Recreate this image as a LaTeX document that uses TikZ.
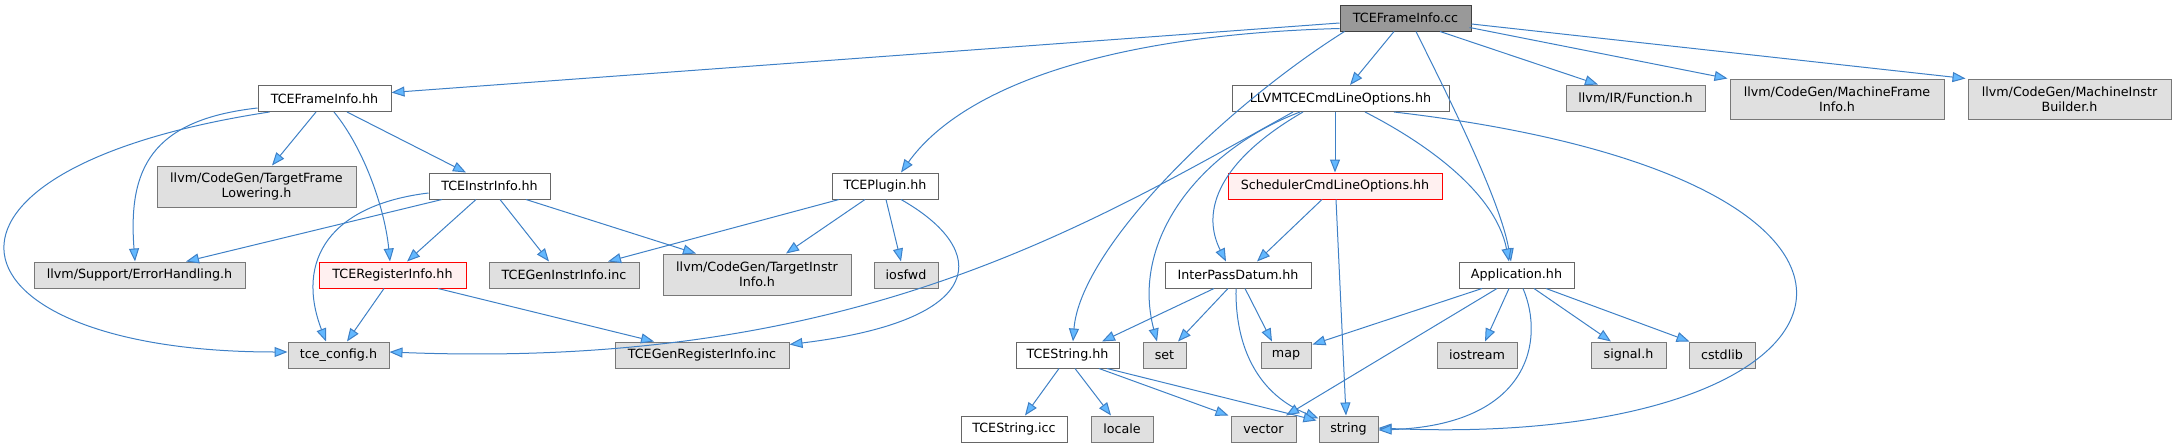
\documentclass[tikz,border=0pt]{standalone}
\usepackage{fontspec}
\setmainfont{DejaVu Sans}
\usetikzlibrary{arrows.meta,calc}
\definecolor{edgec}{RGB}{62,128,198}
\definecolor{tipc}{RGB}{99,184,255}
\definecolor{grayfill}{RGB}{224,224,224}
\definecolor{grayline}{RGB}{120,120,120}
\definecolor{mainfill}{RGB}{153,153,153}
\definecolor{mainline}{RGB}{64,64,64}
\definecolor{fileline}{RGB}{102,102,102}
\definecolor{redfill}{RGB}{255,240,240}
\tikzset{
 base/.style={draw, line width=1pt, inner sep=0pt, minimum height=26pt, font=\fontsize{12.7}{15}\selectfont, align=center, text=black},
 filebox/.style={base, draw=fileline, fill=white},
 extbox/.style={base, draw=grayline, fill=grayfill},
 mainbox/.style={base, draw=mainline, fill=mainfill},
 redbox/.style={base, draw=red, fill=redfill},
 dep/.style={draw=edgec, line width=1pt, -{Triangle[length=13pt,width=10pt,fill=tipc]}},
}
\begin{document}
\begin{tikzpicture}[x=1pt,y=-1pt]
\useasboundingbox (0,0) rectangle (2177,447);
% nodes
\node[mainbox, minimum width=131pt] (cc) at (1405.5,18) {TCEFrameInfo.cc};
\node[filebox, minimum width=133pt] (hh) at (324.5,98.5) {TCEFrameInfo.hh};
\node[filebox, minimum width=217pt] (llo) at (1340.5,98.5) {LLVMTCECmdLineOptions.hh};
\node[extbox, minimum width=139pt] (fun) at (1635.5,98) {llvm/IR/Function.h};
\node[extbox, minimum width=214pt, minimum height=40pt] (mfi) at (1837,99) {llvm/CodeGen/MachineFrame\\Info.h};
\node[extbox, minimum width=203pt, minimum height=40pt] (mib) at (2069.5,99) {llvm/CodeGen/MachineInstr\\Builder.h};
\node[extbox, minimum width=199pt, minimum height=41pt] (tfl) at (256.5,186.5) {llvm/CodeGen/TargetFrame\\Lowering.h};
\node[filebox, minimum width=121pt] (tii) at (489.5,186) {TCEInstrInfo.hh};
\node[filebox, minimum width=106pt] (plg) at (885,186) {TCEPlugin.hh};
\node[redbox, minimum width=214pt] (sch) at (1335,186) {SchedulerCmdLineOptions.hh};
\node[extbox, minimum width=211pt] (eh) at (139.5,275) {llvm/Support/ErrorHandling.h};
\node[redbox, minimum width=147pt] (tri) at (392.5,275) {TCERegisterInfo.hh};
\node[extbox, minimum width=150pt] (gii) at (564,275) {TCEGenInstrInfo.inc};
\node[extbox, minimum width=188pt, minimum height=41pt] (tgi) at (757,274.5) {llvm/CodeGen/TargetInstr\\Info.h};
\node[extbox, minimum width=64pt] (iosfwd) at (906,275) {iosfwd};
\node[filebox, minimum width=146pt] (ipd) at (1238,275) {InterPassDatum.hh};
\node[filebox, minimum width=115pt] (app) at (1516.5,275) {Application.hh};
\node[extbox, minimum width=101pt] (cfg) at (338.5,355) {tce\_config.h};
\node[extbox, minimum width=174pt] (gri) at (702,355) {TCEGenRegisterInfo.inc};
\node[filebox, minimum width=103pt] (ts) at (1067.5,355) {TCEString.hh};
\node[extbox, minimum width=43pt] (set) at (1164.5,355) {set};
\node[extbox, minimum width=50pt] (map) at (1286,355) {map};
\node[extbox, minimum width=80pt] (ios) at (1477,355) {iostream};
\node[extbox, minimum width=75pt] (sig) at (1628.5,355) {signal.h};
\node[extbox, minimum width=66pt] (csl) at (1722,355) {cstdlib};
\node[filebox, minimum width=106pt] (tsi) at (1014,429) {TCEString.icc};
\node[extbox, minimum width=62pt] (loc) at (1122,429) {locale};
\node[extbox, minimum width=65pt] (vec) at (1263.5,429) {vector};
\node[extbox, minimum width=59pt] (str) at (1348.5,429) {string};
% edges from TCEFrameInfo.cc
\draw[dep] ($(cc.west)+(0,5)$) -- ($(hh.east)+(0,-6)$);
\draw[dep] ($(cc.south west)+(0,-3)$) .. controls (1100,35) and (960,90) .. ($(plg.north)+(16,0)$);
\draw[dep] ($(cc.south west)+(5,0)$) .. controls (1220,110) and (1080,250) .. ($(ts.north)+(5.5,0)$);
\draw[dep] ($(cc.south)+(-11.5,0)$) -- ($(llo.north)+(9.5,0)$);
\draw[dep] ($(cc.south)+(10.5,0)$) .. controls (1450,100) and (1500,200) .. ($(app.north)+(-5.5,0)$);
\draw[dep] ($(cc.south)+(34.5,0)$) -- ($(fun.north)+(-37.5,0)$);
\draw[dep] ($(cc.south east)+(-2,-4)$) -- ($(mfi.north west)+(-2,0)$);
\draw[dep] ($(cc.east)+(0,6)$) -- ($(mib.north west)+(-2,0)$);
% edges from TCEFrameInfo.hh
\draw[dep] ($(hh.south west)+(0,-4)$) .. controls (150,120) and (128,170) .. ($(eh.north)+(-4.5,0)$);
\draw[dep] ($(hh.south west)+(12,0)$) .. controls (-110,170) and (-60,352) .. ($(cfg.west)+(0,-3)$);
\draw[dep] ($(hh.south)+(-8.5,0)$) -- ($(tfl.north)+(15.5,0)$);
\draw[dep] ($(hh.south)+(9.5,0)$) .. controls (365,150) and (385,210) .. ($(tri.north)+(-2.5,0)$);
\draw[dep] ($(hh.south)+(22.5,0)$) -- ($(tii.north)+(-23.5,0)$);
% edges from TCEInstrInfo.hh
\draw[dep] ($(tii.south)+(-47.5,0)$) -- ($(eh.north)+(46.5,0)$);
\draw[dep] ($(tii.west)+(0,7)$) .. controls (330,205) and (295,260) .. ($(cfg.north)+(-12.5,0)$);
\draw[dep] ($(tii.south)+(-13.5,0)$) -- ($(tri.north)+(14.5,0)$);
\draw[dep] ($(tii.south)+(10.5,0)$) -- ($(gii.north)+(-15,0)$);
\draw[dep] ($(tii.south)+(36.5,0)$) -- ($(tgi.north)+(-61,0)$);
% edges from TCERegisterInfo.hh
\draw[dep] ($(tri.south)+(-8.5,0)$) -- ($(cfg.north)+(8.5,0)$);
\draw[dep] ($(tri.south)+(45.5,0)$) -- ($(gri.north)+(-48,0)$);
% edges from TCEPlugin.hh
\draw[dep] ($(plg.south)+(-46,0)$) -- ($(gii.north)+(44,0)$);
\draw[dep] ($(plg.south)+(-20,0)$) -- ($(tgi.north)+(29,0)$);
\draw[dep] ($(plg.south)+(1,0)$) -- ($(iosfwd.north)+(-5,0)$);
\draw[dep] ($(plg.south)+(16,0)$) .. controls (990,250) and (990,320) .. ($(gri.north east)+(0,3)$);
% edges from LLVMTCECmdLineOptions.hh
\draw[dep] ($(llo.south)+(-47.5,0)$) .. controls (1080,230) and (850,370) .. ($(cfg.east)+(0,-3)$);
\draw[dep] ($(llo.south)+(-40.5,0)$) .. controls (1200,150) and (1130,240) .. ($(set.north)+(-7.5,0)$);
\draw[dep] ($(llo.south)+(-37.5,0)$) .. controls (1220,160) and (1200,210) .. ($(ipd.north)+(-12,0)$);
\draw[dep] ($(llo.south)+(-5.5,0)$) -- (sch.north);
\draw[dep] ($(llo.south)+(24.5,0)$) .. controls (1420,140) and (1495,190) .. ($(app.north)+(-7.5,0)$);
\draw[dep] ($(llo.south)+(53.5,0)$) .. controls (1980,180) and (1880,450) .. ($(str.east)+(0,-1)$);
% edges from SchedulerCmdLineOptions.hh
\draw[dep] ($(sch.south)+(-13,0)$) -- ($(ipd.north)+(19,0)$);
\draw[dep] ($(sch.south)+(1,0)$) -- ($(str.north)+(-2.5,0)$);
% edges from InterPassDatum.hh
\draw[dep] ($(ipd.south)+(-24,0)$) -- ($(ts.north)+(34.5,0)$);
\draw[dep] ($(ipd.south)+(-10,0)$) -- ($(set.north)+(13.5,0)$);
\draw[dep] ($(ipd.south)+(7,0)$) -- ($(map.north)+(-14,0)$);
\draw[dep] ($(ipd.south)+(-2,0)$) .. controls (1235,350) and (1260,395) .. ($(str.north west)+(0,3)$);
% edges from Application.hh
\draw[dep] ($(app.south)+(-34.5,0)$) -- ($(map.north east)+(1,3)$);
\draw[dep] ($(app.south)+(-19.5,0)$) -- ($(vec.north)+(22.5,0)$);
\draw[dep] ($(app.south)+(-7.5,0)$) -- ($(ios.north)+(8,0)$);
\draw[dep] ($(app.south)+(6.5,0)$) .. controls (1545,340) and (1530,425) .. ($(str.east)+(0,1)$);
\draw[dep] ($(app.south)+(17.5,0)$) -- ($(sig.north)+(-17.5,0)$);
\draw[dep] ($(app.south)+(29.5,0)$) -- ($(csl.north west)+(1,0)$);
% edges from TCEString.hh
\draw[dep] ($(ts.south)+(-8.5,0)$) -- ($(tsi.north)+(11,0)$);
\draw[dep] ($(ts.south)+(7.5,0)$) -- ($(loc.north)+(-11,0)$);
\draw[dep] ($(ts.south)+(31.5,0)$) -- ($(vec.north west)+(-2,0)$);
\draw[dep] ($(ts.south)+(39.5,0)$) -- ($(str.north west)+(-2,5)$);
\end{tikzpicture}
\end{document}
